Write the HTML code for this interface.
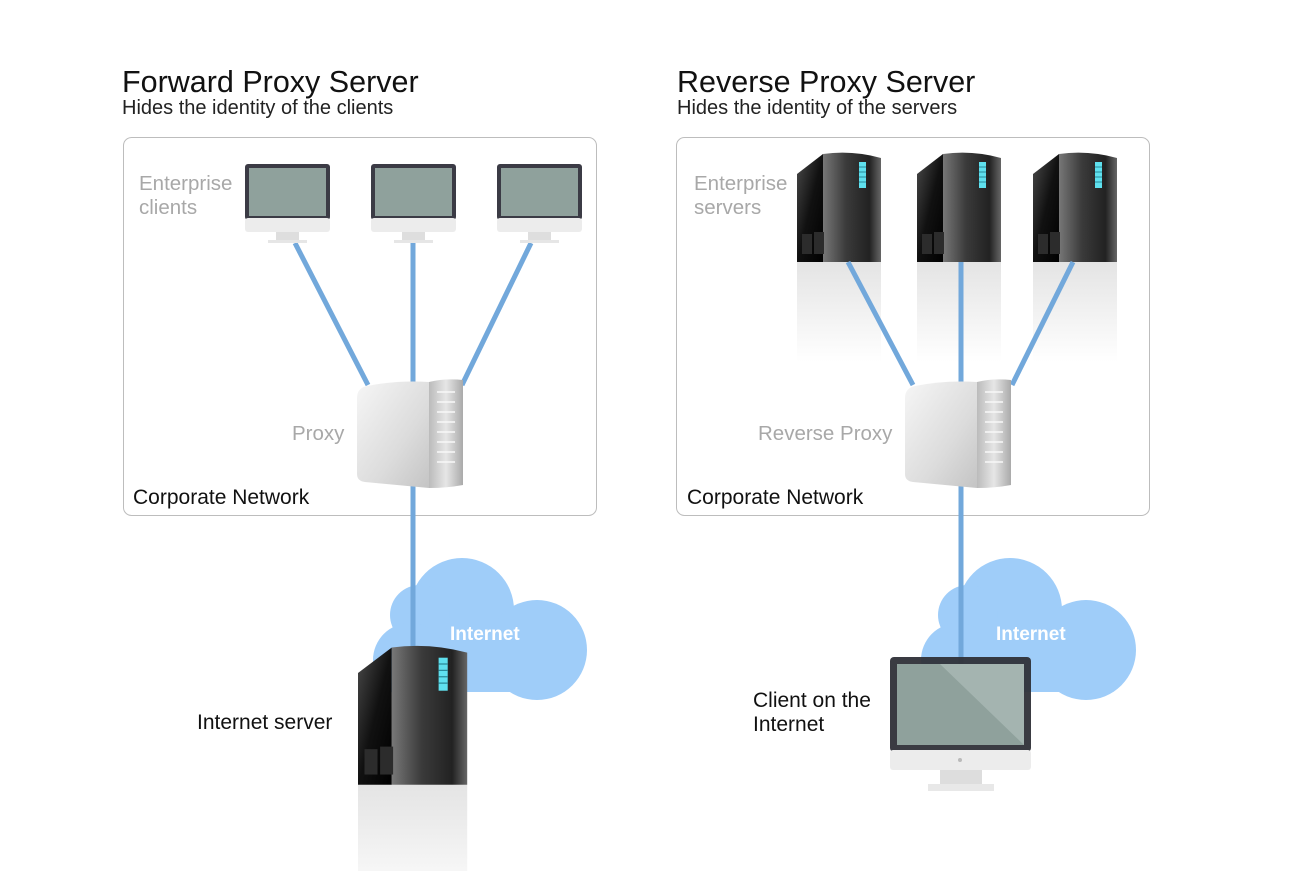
<!DOCTYPE html>
<html><head><meta charset="utf-8"><style>
html,body{margin:0;padding:0;background:#fff;}
svg{display:block;font-family:"Liberation Sans",sans-serif;}
</style></head><body>
<svg width="1289" height="871" viewBox="0 0 1289 871" xmlns="http://www.w3.org/2000/svg">
<defs>
  <linearGradient id="srvL" x1="0" y1="0" x2="1" y2="1">
    <stop offset="0" stop-color="#4a4a4a"/><stop offset="0.5" stop-color="#111"/><stop offset="1" stop-color="#000"/>
  </linearGradient>
  <linearGradient id="srvR" x1="0" y1="0" x2="1" y2="0">
    <stop offset="0" stop-color="#777"/><stop offset="0.4" stop-color="#3a3a3a"/><stop offset="0.8" stop-color="#222"/><stop offset="1" stop-color="#666"/>
  </linearGradient>
  <linearGradient id="refl" x1="0" y1="0" x2="0" y2="1">
    <stop offset="0" stop-color="#e4e4e4"/><stop offset="0.6" stop-color="#f4f4f4"/><stop offset="1" stop-color="#fff"/>
  </linearGradient>
  <linearGradient id="pxL" x1="0" y1="0" x2="1" y2="1">
    <stop offset="0" stop-color="#f6f6f6"/><stop offset="0.6" stop-color="#dcdcdc"/><stop offset="1" stop-color="#c4c4c4"/>
  </linearGradient>
  <linearGradient id="pxR" x1="0" y1="0" x2="1" y2="0">
    <stop offset="0" stop-color="#bbb"/><stop offset="0.5" stop-color="#e6e6e6"/><stop offset="1" stop-color="#aaa"/>
  </linearGradient>
  <g id="server">
    <rect x="0" y="110" width="84" height="100" fill="url(#refl)"/>
    <path d="M0 22 L26 2 L26 110 L0 110 Z" fill="url(#srvL)"/>
    <path d="M26 2 Q55 -2 84 6 L84 110 L26 110 Z" fill="url(#srvR)"/>
    <rect x="62" y="10" width="7" height="26" fill="#5fe0ee"/>
    <path d="M62 15h7M62 20h7M62 25h7M62 30h7" stroke="#2a8a99" stroke-width="1"/>
    <rect x="5" y="82" width="10" height="20" fill="#2c2c2c"/>
    <rect x="17" y="80" width="10" height="22" fill="#2c2c2c"/>
  </g>
  <g id="monitor">
    <rect x="0" y="0" width="85" height="56" rx="3" fill="#3b3b45"/>
    <rect x="4" y="4" width="77" height="48" fill="#8fa19c"/>
    <rect x="0" y="54" width="85" height="14" rx="3" fill="#ececec"/>
    <rect x="31" y="68" width="23" height="8" fill="#dedede"/>
    <rect x="23" y="76" width="39" height="3" fill="#e6e6e6"/>
  </g>
  <g id="proxy">
    <path d="M0 20 Q0 10 10 8 Q40 2 72 4 L72 110 L8 104 Q0 103 0 96 Z" fill="url(#pxL)"/>
    <path d="M72 4 L72 110 Q90 110 106 107 L106 2 Q88 0 72 4 Z" fill="url(#pxR)"/>
    <path d="M80 14h18M80 24h18M80 34h18M80 44h18M80 54h18M80 64h18M80 74h18M80 84h18" stroke="#f8f8f8" stroke-width="1.5"/>
  </g>
</defs>

<text x="122" y="92" font-size="30.5" fill="#111">Forward Proxy Server</text>
<text x="122" y="114" font-size="20" fill="#222">Hides the identity of the clients</text>
<text x="677" y="92" font-size="30.5" fill="#111">Reverse Proxy Server</text>
<text x="677" y="114" font-size="20" fill="#222">Hides the identity of the servers</text>

<rect x="123.5" y="137.5" width="473" height="378" rx="8" fill="none" stroke="#bdbdbd"/>
<rect x="676.5" y="137.5" width="473" height="378" rx="8" fill="none" stroke="#bdbdbd"/>

<g fill="#9fcdf9">
  <circle cx="462" cy="610" r="52"/><circle cx="537" cy="650" r="50"/><circle cx="420" cy="615" r="30"/><circle cx="410" cy="660" r="37"/>
  <rect x="410" y="640" width="140" height="52"/>
  <circle cx="1010" cy="610" r="52"/><circle cx="1086" cy="650" r="50"/><circle cx="968" cy="615" r="30"/><circle cx="958" cy="660" r="37"/>
  <rect x="958" y="640" width="140" height="52"/>
</g>
<text x="450" y="640" font-size="19" font-weight="bold" fill="#fff">Internet</text>
<text x="996" y="640" font-size="19" font-weight="bold" fill="#fff">Internet</text>

<g stroke="#72a8db" stroke-width="5" fill="none">
  <line x1="295" y1="243" x2="368" y2="385"/>
  <line x1="413" y1="243" x2="413" y2="385"/>
  <line x1="531" y1="243" x2="462" y2="385"/>
  <line x1="413" y1="480" x2="413" y2="655"/>
</g>
<use href="#monitor" x="245" y="164"/>
<use href="#monitor" x="371" y="164"/>
<use href="#monitor" x="497" y="164"/>
<use href="#proxy" x="357" y="378"/>

<use href="#server" x="797" y="152"/>
<use href="#server" x="917" y="152"/>
<use href="#server" x="1033" y="152"/>
<g stroke="#72a8db" stroke-width="5" fill="none">
  <line x1="848" y1="262" x2="913" y2="385"/>
  <line x1="961" y1="262" x2="961" y2="385"/>
  <line x1="1073" y1="262" x2="1012" y2="385"/>
  <line x1="961" y1="480" x2="961" y2="665"/>
</g>
<use href="#proxy" x="905" y="378"/>

<g transform="translate(358,645) scale(1.3,1.27)"><use href="#server"/></g>

<rect x="890" y="657" width="141" height="95" rx="4" fill="#2f3038" opacity="0.95"/>
<rect x="897" y="664" width="127" height="81" fill="#8fa19c"/>
<path d="M940 664 L1024 664 L1024 745 Z" fill="#b3c2be" opacity="0.6"/>
<rect x="890" y="750" width="141" height="20" rx="3" fill="#ececec"/>
<circle cx="960" cy="760" r="2" fill="#bbb"/>
<rect x="940" y="770" width="42" height="14" fill="#dddddd"/>
<rect x="928" y="784" width="66" height="7" fill="#e8e8e8"/>

<g font-size="20.5" fill="#a8a8a8">
  <text x="139" y="190">Enterprise</text><text x="139" y="214">clients</text>
  <text x="694" y="190">Enterprise</text><text x="694" y="214">servers</text>
  <text x="292" y="440">Proxy</text>
  <text x="758" y="440">Reverse Proxy</text>
</g>
<g font-size="21" fill="#111">
  <text x="133" y="504">Corporate Network</text>
  <text x="687" y="504">Corporate Network</text>
  <text x="197" y="729">Internet server</text>
  <text x="753" y="707">Client on the</text>
  <text x="753" y="731">Internet</text>
</g>
</svg>
</body></html>
